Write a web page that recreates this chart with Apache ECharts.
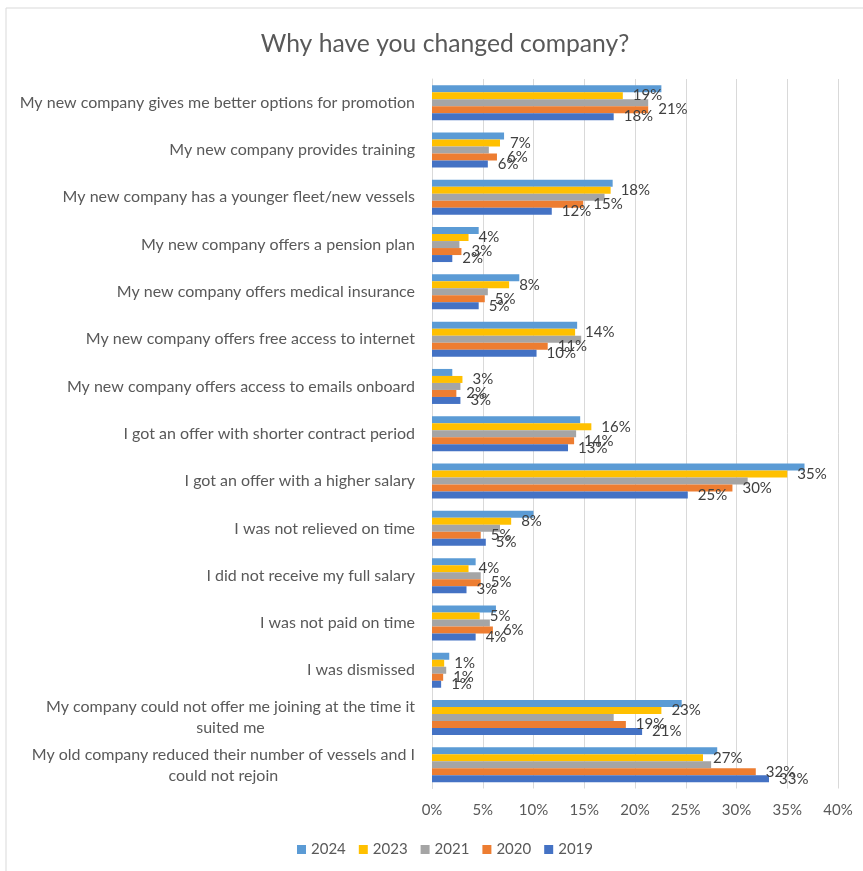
<!DOCTYPE html>
<html>
<head>
<meta charset="utf-8">
<script src="https://cdn.jsdelivr.net/npm/echarts@6/dist/echarts.min.js"></script>
<style>
  html, body { margin: 0; padding: 0; background: #ffffff; }
  #chart { width: 863px; height: 871px; }
</style>
</head>
<body>
<div id="chart"></div>
<script>
// Reasons for changing company, share of respondents (%) per survey year
const categories = [
  'My new company gives me better options for promotion',
  'My new company provides training',
  'My new company has a younger fleet/new vessels',
  'My new company offers a pension plan',
  'My new company offers medical insurance',
  'My new company offers free access to internet',
  'My new company offers access to emails onboard',
  'I got an offer with shorter contract period',
  'I got an offer with a higher salary',
  'I was not relieved on time',
  'I did not receive my full salary',
  'I was not paid on time',
  'I was dismissed',
  'My company could not offer me joining at the time it\nsuited me',
  'My old company reduced their number of vessels and I\ncould not rejoin'
];

const values2024 = [22.6, 7.1, 17.8, 4.6, 8.6, 14.3, 2.0, 14.6, 36.7, 10.0, 4.3, 6.3, 1.7, 24.6, 28.1];
const values2023 = [18.8, 6.7, 17.6, 3.6, 7.6, 14.1, 3.0, 15.7, 35.0, 7.8, 3.6, 4.7, 1.2, 22.6, 26.7];
const values2021 = [21.3, 5.6, 17.0, 2.7, 5.5, 14.7, 2.8, 14.2, 31.1, 6.7, 4.8, 5.7, 1.4, 17.9, 27.5];
const values2020 = [21.3, 6.4, 14.9, 2.9, 5.2, 11.4, 2.4, 14.0, 29.6, 4.8, 4.8, 6.0, 1.1, 19.1, 31.9];
const values2019 = [17.9, 5.5, 11.8, 2.0, 4.6, 10.3, 2.8, 13.4, 25.2, 5.3, 3.4, 4.3, 0.9, 20.7, 33.2];

const xTicks = [0, 5, 10, 15, 20, 25, 30, 35, 40];

const FONT = 'Lato';
const TEXT = '#595959';
const CAT_SIZE = 16;

// Wrapped category names are right-aligned against the axis; a right padding
// on the shorter lines centres them under the longest line of the label.
const measureCtx = document.createElement('canvas').getContext('2d');
measureCtx.font = CAT_SIZE + 'px ' + FONT;
const catRich = {};
categories.forEach((name, i) => {
  const lines = name.split('\n');
  const widths = lines.map(l => measureCtx.measureText(l).width);
  const maxW = Math.max(...widths);
  lines.forEach((l, j) => {
    catRich['c' + i + '_' + j] = {
      color: TEXT,
      fontFamily: FONT,
      fontSize: CAT_SIZE,
      lineHeight: 21,
      padding: [0, (maxW - widths[j]) / 2, 0, 0]
    };
  });
});

function makeSeries(name, data, color, labelled) {
  return {
    name: name,
    type: 'bar',
    data: data,
    barGap: '0%',
    barCategoryGap: '26%',
    itemStyle: { color: color },
    label: {
      show: labelled,
      position: 'right',
      distance: 10,
      color: '#404040',
      fontFamily: FONT,
      fontSize: 15,
      formatter: p => Math.round(p.value) + '%'
    },
    emphasis: { disabled: true },
    animation: false
  };
}

const chart = echarts.init(document.getElementById('chart'), null, { renderer: 'canvas' });

chart.setOption({
  backgroundColor: '#ffffff',
  animation: false,
  textStyle: { fontFamily: FONT },
  title: {
    text: 'Why have you changed company?',
    left: 440,
    textAlign: 'center',
    top: 27,
    textStyle: { fontFamily: FONT, fontSize: 24.7, fontWeight: 'normal', color: TEXT }
  },
  graphic: [{
    type: 'rect',
    shape: { x: 6, y: 8, width: 880, height: 900 },
    style: { fill: 'none', stroke: '#d9d9d9', lineWidth: 1 },
    silent: true
  }],
  legend: {
    left: 292,
    top: 837,
    itemWidth: 9,
    itemHeight: 9,
    itemGap: 13,
    icon: 'rect',
    textStyle: { fontFamily: FONT, fontSize: 15, color: TEXT },
    data: ['2024', '2023', '2021', '2020', '2019']
  },
  grid: { left: 432, top: 79, width: 406, height: 709.5, containLabel: false },
  xAxis: {
    type: 'value',
    min: xTicks[0],
    max: xTicks[xTicks.length - 1],
    interval: 5,
    axisLine: { show: false },
    axisTick: { show: false },
    splitLine: { show: true, lineStyle: { color: '#d9d9d9', width: 1 } },
    axisLabel: {
      margin: 14,
      color: TEXT,
      fontFamily: FONT,
      fontSize: 15,
      formatter: v => v + '%'
    }
  },
  yAxis: {
    type: 'category',
    inverse: true,
    data: categories,
    axisLine: { show: true, lineStyle: { color: '#d9d9d9', width: 1 } },
    axisTick: { show: false },
    axisLabel: {
      margin: 17,
      color: TEXT,
      fontFamily: FONT,
      fontSize: CAT_SIZE,
      formatter: (v, i) => v.split('\n').map((l, j) => '{c' + i + '_' + j + '|' + l + '}').join('\n'),
      rich: catRich
    }
  },
  series: [
    makeSeries('2024', values2024, '#5B9BD5', false),
    makeSeries('2023', values2023, '#FFC000', true),
    makeSeries('2021', values2021, '#A5A5A5', false),
    makeSeries('2020', values2020, '#ED7D31', true),
    makeSeries('2019', values2019, '#4472C4', true)
  ]
});
</script>
</body>
</html>
